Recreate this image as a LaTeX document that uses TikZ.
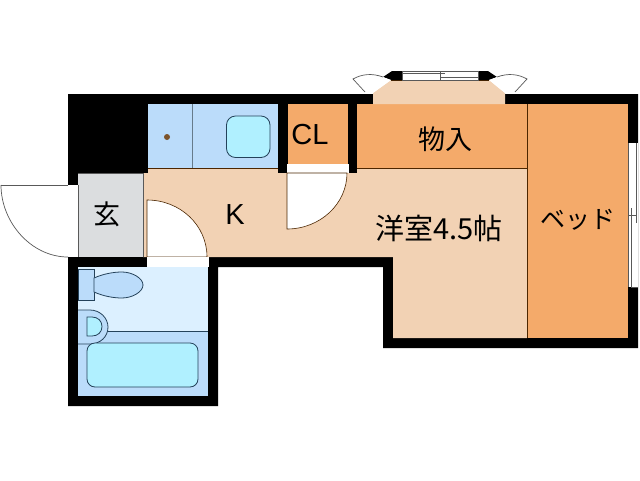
\documentclass[tikz,border=0pt]{standalone}
\usepackage{fontspec}
\newfontfamily\cjk{Noto Sans CJK JP}
\setsansfont{Liberation Sans}
\definecolor{beige}{HTML}{F2D2B4}
\definecolor{orng}{HTML}{F4AA6A}
\definecolor{blu}{HTML}{BBDCFA}
\definecolor{lblu}{HTML}{DCF0FF}
\definecolor{cyn}{HTML}{B0F0FF}
\definecolor{gry}{HTML}{DBDDDF}
\definecolor{lnc}{HTML}{24425A}
\tikzset{
  wall/.style={fill=black,draw=none},
  thin line/.style={draw=black!65,line width=.7pt},
  fix/.style={draw=lnc,line width=.8pt},
  room/.style={draw=black!70!orange,line width=.7pt},
  lab/.style={inner sep=0pt,text=black}
}
\begin{document}
\begin{tikzpicture}[x=1pt,y=-1pt]
\useasboundingbox (0,0) rectangle (640,480);
\fill[white] (0,0) rectangle (640,480);
% walls
\fill[wall] (68,94) -- (373,94) -- (373,104) -- (505,104) -- (505,94) -- (638,94) -- (638,348) -- (383,348) -- (383,267) -- (218,267) -- (218,406) -- (68,406) -- cycle;
% hall / western room
\fill[beige] (148,168) -- (527,168) -- (527,338) -- (393,338) -- (393,257) -- (143,257) -- (143,173) -- (148,173) -- cycle;
\draw[room] (148,168) -- (527,168);
% storage and bed
\fill[orng] (357,104) rectangle (527,168);
\fill[orng] (527,104) rectangle (628,338);
\draw[room] (527,104) -- (527,338);
\fill[orng] (288,104) rectangle (348,164);
% CL side walls
\fill[wall] (278,104) rectangle (288,173);
\fill[wall] (348,104) rectangle (357,173);
\fill[white] (287,164) rectangle (349,173);
% unit bath
\fill[blu] (148,104) rectangle (278,168);
\draw[fix,draw=lnc!70] (192,104) -- (192,168);
\fill[cyn,draw=lnc,line width=.8pt,rounded corners=9pt] (226.5,116) rectangle (270,157.5);
\fill[black!35!brown] (167,137) circle (3);
% entrance
\fill[gry] (78,173) rectangle (143,257);
\draw[thin line] (143,173) -- (143,257);
\draw[thin line] (78,173) -- (143,173);
\fill[white] (68,185) rectangle (78,257);
\draw[thin line] (78,185) -- (78,257);
\draw[thin line] (1,185) -- (68,185);
\draw[thin line] (1,185) .. controls (1,222) and (31,257) .. (68,257);
% toilet door
\fill[white,draw=black!70!orange,line width=.6pt] (147,257) -- (147,200) .. controls (180,200) and (207,225) .. (207,257) -- cycle;
\fill[white] (147,257) rectangle (209,266.5);
% CL door
\fill[white,draw=black!70!orange,line width=.6pt] (287,173) -- (287,229) .. controls (320,229) and (347,204) .. (347,173) -- cycle;
% bath room
\fill[lblu] (78,267) rectangle (208,396);
\fill[blu] (78,331) rectangle (208,396);
\draw[fix] (100,331) -- (208,331);
\filldraw[fix,fill=blu] (78,269) rectangle (94,300);
\filldraw[fix,fill=blu] (94,278) .. controls (103,274) and (113,272) .. (122,272) .. controls (132,272) and (143,278) .. (143,285) .. controls (143,292) and (132,298) .. (122,298) .. controls (113,298) and (103,296) .. (94,292) -- cycle;
\filldraw[fix,fill=blu] (78,310) -- (90,310) .. controls (100,310) and (108,318) .. (108,327) .. controls (108,337) and (100,344) .. (90,344) -- (78,344);
\filldraw[fix,fill=cyn] (87,317) -- (92,317) .. controls (98,317) and (102,321) .. (102,326.5) .. controls (102,332) and (98,336) .. (92,336) -- (87,336) -- cycle;
\filldraw[fix,fill=cyn,rounded corners=8pt] (87,343) rectangle (198,387);
% bay window
\fill[wall] (362,94) rectangle (373,104);
\fill[beige] (373,104) -- (373,93) -- (391,80) -- (489,80) -- (505,93) -- (505,104) -- cycle;
\draw[room] (391,80) -- (489,80);
\fill[wall] (383,77) -- (392,71) -- (402,71) -- (402,80) -- (391,80) -- cycle;
\fill[wall] (478,71) -- (488,71) -- (497,77) -- (489,80) -- (478,80) -- cycle;
\fill[white,draw=black!65,line width=.5pt] (402,71) rectangle (478,80);
\draw[thin line] (403,73) -- (445,73);
\draw[thin line] (440,77) -- (478,77);
\draw[thin line] (440,72) -- (440,80);
\fill[white] (365,92) -- (383,77) -- (391,80) -- (373,93) -- cycle;
\fill[white] (515,92) -- (497,77) -- (489,80) -- (505,93) -- cycle;
\draw[thin line] (365,92) -- (353,79) .. controls (362,74) and (372,73) .. (383,77);
\draw[thin line] (515,92) -- (527,79) .. controls (518,74) and (508,73) .. (497,77);
% east window
\fill[white] (628,143) rectangle (638,287);
\draw[thin line] (628,143) -- (628,287);
\draw[thin line] (636,143) -- (636,223);
\draw[thin line] (631,208) -- (631,287) -- (638,287);
\draw[thin line] (628,215) -- (637,215);
% labels
\node[lab,font=\cjk\fontsize{27}{27}\selectfont] (genkan) at (107,214) {玄};
\node[lab,font=\sffamily\fontsize{29}{29}\selectfont] (kitchen) at (235,215) {K};
\node[lab,font=\sffamily\fontsize{29}{29}\selectfont] (cl) at (310,135) {CL};
\node[lab,font=\cjk\fontsize{27}{27}\selectfont] (mono) at (445,139) {物入};
\node[lab,font=\cjk\fontsize{29}{29}\selectfont] (yoshitsu) at (439,228) {洋室4.5帖};
\node[lab,font=\cjk\fontsize{25}{25}\selectfont] (bed) at (578,220) {ベッド};
\end{tikzpicture}
\end{document}
